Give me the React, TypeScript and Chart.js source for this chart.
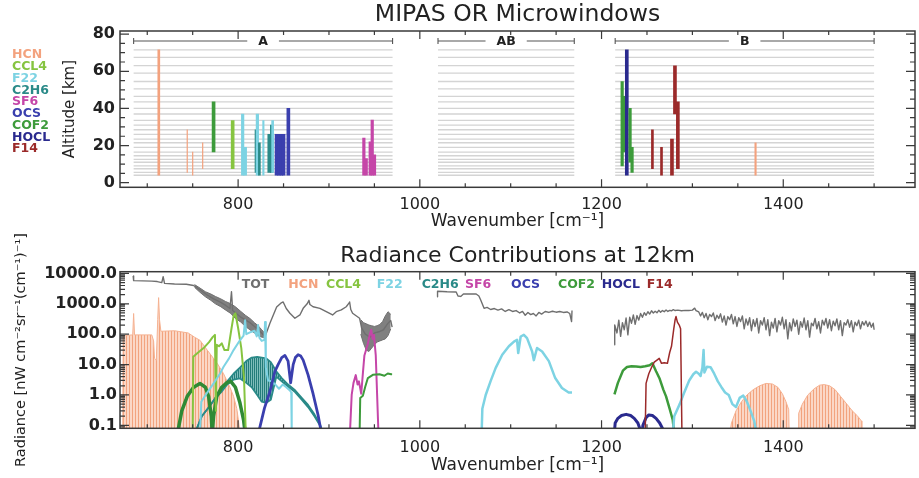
import { useEffect, useRef } from 'react';
import { Chart, registerables } from 'chart.js';

Chart.register(...registerables);

const FONT = "'DejaVu Sans', 'Liberation Sans', sans-serif";
const INK = '#222222';
const AXIS = '#3a3a3a';

/* ---------- species shown in both panels ---------- */
const speciesNames = ['HCN', 'CCL4', 'F22', 'C2H6', 'SF6', 'OCS', 'COF2', 'HOCL', 'F14'];
const speciesColors = ['#f3a27e', '#86c440', '#7dd3e3', '#2a8a88', '#c546a8', '#3a3fae', '#3d9b3b', '#2a2a8e', '#9b2a2a'];
const totName = 'TOT';
const totColor = '#6f6f6f';
const colorOf = (name: string) => speciesColors[speciesNames.indexOf(name)];

/* ---------- axes ---------- */
const wnMin = 670;
const wnMax = 1545;
const wnTicks = [800, 1000, 1200, 1400];
const altMin = -2.5;
const altMax = 81.7;
const altTicks = [0, 20, 40, 60, 80];
const radMin = 0.08;
const radMax = 11400;
const radTicks = [0.1, 1, 10, 100, 1000, 10000];

/* ---------- MIPAS bands ---------- */
const bandNames = ['A', 'AB', 'B'];
const bandStart = [685, 1020, 1215];
const bandEnd = [970, 1170, 1500];
const bandLabelAlt = 76.3;

/* tangent altitudes of the optimised-resolution scan [km] */
const tangentAlt = [71.5, 67.5, 63, 59, 54.5, 50.5, 46.5, 43.5, 40, 37, 33.5, 31, 28.5, 26, 23.5, 21.5, 19, 16.5, 14.5, 12.5, 11, 9, 7.5, 5.5, 4];

/* ---------- microwindows: species, centre [cm-1], width [cm-1], altitude range [km] ---------- */
const mwSpecies = ['HCN', 'HCN', 'HCN', 'HCN', 'COF2', 'CCL4', 'F22', 'F22', 'C2H6', 'F22', 'C2H6', 'F22', 'C2H6', 'C2H6', 'F22',
  'OCS', 'OCS', 'OCS', 'OCS', 'OCS', 'SF6', 'SF6', 'SF6', 'SF6', 'SF6',
  'COF2', 'COF2', 'HOCL', 'COF2', 'COF2', 'F14', 'F14', 'F14', 'F14', 'F14', 'HCN'];
const mwCentre = [712.7, 744, 750, 761, 773, 794, 805, 807.7, 819.7, 821.2, 823.4, 827.8, 834.3, 836.9, 838,
  842.3, 845, 847.6, 850, 855.3, 938.4, 941, 945.4, 947.6, 950.1,
  1222.7, 1225, 1227.8, 1231.4, 1233.6, 1256, 1266, 1277.5, 1280.8, 1284, 1369.5];
const mwWidth = [2.2, 0.6, 0.6, 0.6, 3.3, 3.3, 2.8, 3.3, 2.2, 2.8, 2.2, 1.6, 3.3, 2.8, 2.2,
  3.3, 3.3, 3.3, 3.3, 3.3, 2.8, 2.8, 2.8, 2.8, 2.8,
  2.8, 2.8, 3.3, 2.8, 2.8, 2.2, 2.2, 3.3, 3.3, 3.3, 1.6];
const mwLow = [4, 5.5, 4, 7.5, 16.5, 7.5, 4, 4, 5.5, 4, 4, 4, 5.5, 5.5, 5.5,
  4, 4, 4, 4, 4, 4, 4, 4, 4, 4,
  9, 16.5, 4, 11, 5.5, 7.5, 4, 4, 37, 7.5, 4];
const mwHigh = [71.5, 28.5, 16.5, 21.5, 43.5, 33.5, 37, 19, 28.5, 37, 21.5, 33.5, 26, 31, 33.5,
  26, 26, 26, 26, 40, 24, 13, 22, 33.7, 15,
  54.5, 46.5, 71.5, 40, 19, 28.5, 19, 23.5, 63, 43.5, 21.5];

/* ---------- radiance contributions at 12 km [nW cm-2 sr-1 (cm-1)-1] ---------- */
const totAWn = [684.5, 685, 695, 705, 711, 716, 717.5, 719, 730, 743, 751, 758, 766, 773, 780, 786, 791, 792.7, 794, 802, 813, 820, 826, 829.6,
  835, 842.4, 847, 849.6, 853, 857, 862.5, 868, 871.6, 876, 878, 879, 882.5, 890, 897, 904, 908, 913.6, 919, 922, 922.7, 924, 926, 933.7,
  936, 940, 945, 950, 955, 960, 965, 968, 969.5];
const totAVal = [8200, 5800, 5700, 5600, 5400, 5000, 7800, 4700, 4500, 4400, 4000, 2900, 1950, 1450, 1150, 900, 700, 2500, 600, 380, 240, 160, 110, 82,
  230, 780, 1050, 1150, 700, 490, 335, 430, 710, 1000, 1300, 950, 800, 710, 550, 430, 550, 630, 800, 1050, 1150, 650, 490, 335,
  160, 100, 80, 110, 120, 140, 230, 280, 170];
const totBand1Wn = [752, 758, 764, 770, 775, 781, 786, 792, 797, 803, 808, 813, 818, 822, 826, 829];
const totBand1Hi = [4300, 3300, 2500, 2100, 1750, 1450, 1200, 1000, 800, 560, 420, 330, 240, 190, 140, 110];
const totBand1Lo = [3500, 2400, 1700, 1300, 1000, 800, 630, 480, 330, 250, 180, 140, 110, 90, 80, 78];
const totBand2Wn = [935, 938, 941, 944, 947, 950, 953, 956, 959, 962, 965, 968];
const totBand2Hi = [300, 240, 220, 200, 190, 180, 190, 210, 260, 400, 550, 450];
const totBand2Lo = [100, 50, 30, 27, 35, 45, 55, 60, 65, 70, 90, 150];
const totABWn = [1019, 1019.5, 1030, 1040, 1042, 1045, 1048, 1062, 1065, 1067, 1070.7, 1074, 1078, 1082, 1086, 1090, 1094, 1098, 1102, 1106,
  1110, 1113, 1116, 1119, 1122, 1125, 1128, 1131, 1134, 1138, 1142, 1146, 1150, 1154, 1158, 1162, 1165, 1167, 1167.5];
const totABVal = [1700, 2600, 2500, 2450, 1800, 1750, 2100, 2100, 1800, 1330, 710, 760, 650, 700, 620, 680, 560, 640, 560, 600,
  500, 560, 420, 520, 440, 480, 400, 520, 460, 560, 520, 570, 530, 560, 520, 540, 480, 260, 600];
const totBWn = [1214, 1214.5, 1217, 1219, 1221, 1223, 1225, 1227, 1229, 1231, 1233, 1235, 1237, 1239, 1241, 1243, 1245, 1247, 1249, 1251,
  1253, 1255, 1257, 1259, 1261, 1263, 1265, 1267, 1269, 1271, 1273, 1275, 1277, 1279, 1281, 1284, 1288, 1292, 1296, 1300,
  1302.5, 1304, 1307, 1309, 1311, 1313, 1315, 1317, 1319, 1321, 1323, 1325, 1327, 1329, 1331, 1333, 1335, 1337, 1339, 1341,
  1343, 1345, 1347, 1349, 1351, 1353, 1355, 1357, 1359, 1361, 1363, 1365, 1367, 1369, 1371, 1373, 1375, 1377, 1379, 1381,
  1383, 1385, 1387, 1389, 1391, 1393, 1395, 1397, 1399, 1401, 1403, 1405, 1407, 1409, 1411, 1413, 1415, 1417, 1419, 1421,
  1423, 1425, 1427, 1429, 1431, 1433, 1435, 1437, 1439, 1441, 1443, 1445, 1447, 1449, 1451, 1453, 1455, 1457, 1459, 1461,
  1463, 1465, 1467, 1469, 1471, 1473, 1475, 1477, 1479, 1481, 1483, 1485, 1487, 1489, 1491, 1493, 1495, 1497, 1499, 1500];
const totBVal = [45, 200, 110, 290, 85, 240, 140, 340, 95, 360, 230, 430, 210, 410, 290, 480, 360, 510, 420, 550,
  460, 590, 500, 570, 510, 610, 530, 600, 550, 630, 560, 610, 590, 640, 600, 620, 590, 610, 600, 620,
  720, 600, 540, 400, 520, 350, 480, 300, 450, 380, 500, 280, 420, 330, 470, 250, 400, 200, 380, 300,
  450, 220, 380, 180, 350, 260, 400, 150, 320, 200, 350, 130, 300, 180, 330, 110, 280, 200, 350, 140,
  300, 90, 250, 160, 330, 120, 280, 200, 360, 150, 300, 70, 240, 130, 320, 180, 290, 100, 260, 170,
  340, 140, 280, 80, 230, 190, 330, 150, 260, 110, 290, 200, 330, 160, 300, 130, 270, 190, 320, 140,
  280, 90, 240, 200, 300, 170, 280, 120, 250, 190, 290, 150, 260, 200, 270, 180, 250, 170, 230, 140];

const hcnAWn = [673, 673.5, 684, 685, 686, 705, 707, 708, 710, 711.5, 712.5, 713.5, 715, 730, 745, 752, 758, 766, 777, 784, 791, 795, 798.5, 800.3, 802.2];
const hcnAVal = [0.05, 90, 95, 480, 95, 95, 60, 16, 14, 300, 1600, 300, 125, 130, 110, 80, 63, 30, 11, 5, 1.8, 0.9, 0.36, 0.15, 0.05];
const hcnBWn = [1341, 1343, 1348, 1354, 1360, 1367, 1374, 1381, 1388, 1394, 1399, 1403, 1406, 1406.5,
  1416.5, 1417, 1421, 1427, 1434, 1440, 1445, 1451, 1457, 1463, 1470, 1476, 1482, 1486, 1486.5];
const hcnBVal = [0.05, 0.12, 0.3, 0.6, 1.0, 1.5, 2.0, 2.4, 2.3, 1.8, 1.1, 0.6, 0.33, 0.05,
  0.05, 0.25, 0.5, 1.0, 1.6, 2.1, 2.2, 2.0, 1.5, 0.9, 0.5, 0.3, 0.2, 0.14, 0.05];

const ccl4Wn = [750, 750.6, 756, 762, 768, 772, 774.5, 775.5, 776.5, 779, 782, 785, 789, 792.5, 795, 797, 800, 803.5, 806.5, 808.5];
const ccl4Val = [0.05, 18, 25, 35, 55, 80, 95, 0.3, 45, 40, 50, 30, 30, 140, 400, 490, 160, 35, 3.6, 0.05];

const f22AWn = [758, 759.5, 766, 773, 780, 784, 790, 795, 802, 806, 807.7, 809, 813, 818, 820.5, 822, 823.5, 826, 829, 829.6, 830.5,
  833, 837, 841, 845, 849, 853, 857, 858.5, 859];
const f22AVal = [0.05, 0.6, 1.2, 2.4, 5, 8.5, 16, 30, 63, 90, 290, 100, 115, 130, 85, 200, 75, 60, 65, 250, 8,
  3, 2.8, 2.2, 1.6, 2.2, 1.8, 1.4, 1.2, 0.05];
const f22ABWn = [1068, 1068.8, 1072.5, 1078, 1083.5, 1090.7, 1098, 1103.6, 1107, 1108.3, 1111, 1114.5, 1118, 1123.6, 1125.5, 1129,
  1134.6, 1142, 1149, 1156.4, 1163.8, 1167.5];
const f22ABVal = [0.05, 0.35, 1.0, 2.9, 7.8, 21, 40, 57, 65, 24, 84, 95, 74, 27, 14, 35, 27, 13, 3.6, 1.7, 1.2, 1.2];
const f22BWn = [1278.4, 1280, 1286, 1291, 1296.5, 1301, 1304, 1307, 1309, 1311, 1312.3, 1313.2, 1316, 1320, 1324, 1328, 1332, 1336,
  1340, 1344, 1348, 1352, 1356, 1360, 1364, 1368, 1371];
const f22BVal = [0.05, 0.2, 0.5, 1.2, 3, 4.8, 5.8, 5, 4.2, 8, 30, 5.5, 8.5, 8.2, 5, 2.8, 1.8, 1.2, 1.0, 0.5, 0.4, 0.8, 0.95, 0.6, 0.3, 0.14, 0.05];

const c2h6Wn = [752, 760, 768, 775, 782, 788, 795, 802, 809, 815, 821, 826, 831, 836, 842, 848, 855, 862, 870, 877, 884, 890, 894];
const c2h6Hi = [0.05, 0.2, 0.4, 0.8, 1.5, 2.8, 5, 8, 13, 17, 18, 17, 16, 12, 6, 3.6, 2.2, 1.5, 0.8, 0.47, 0.23, 0.11, 0.05];
const c2h6Lo = [0.05, 0.2, 0.4, 0.8, 1.3, 2.2, 3.2, 3.5, 2.5, 1.8, 1.0, 0.6, 0.55, 0.7, 4, 2.8, 1.9, 1.3, 0.7, 0.4, 0.2, 0.1, 0.05];

const sf6Wn = [923, 925, 927, 929.5, 931.5, 933, 935.5, 937.5, 939, 942.5, 945, 946.5, 948, 949.5, 951.5, 953, 954.5];
const sf6Val = [0.05, 1.0, 2.5, 4.5, 2.2, 2.8, 1.1, 6, 20, 45, 100, 140, 70, 95, 20, 1, 0.05];

const ocsWn = [822, 829, 835, 840.5, 844, 848, 851.5, 855, 857.8, 860.6, 863, 866, 869, 871.6, 877, 882.5, 888, 892];
const ocsVal = [0.05, 0.37, 1.3, 6, 10, 17, 20, 13, 2.5, 10, 17, 21, 19, 14, 4.6, 1.1, 0.22, 0.05];

const cof2AWn = [733, 738, 744, 751, 758, 764, 767.5, 770.5, 771.5, 773, 776.5, 782, 788, 792, 797, 802, 806, 808];
const cof2AVal = [0.05, 0.3, 0.9, 1.8, 2.4, 1.8, 0.9, 0.2, 0.05, 0.2, 0.9, 1.8, 2.6, 2.8, 1.8, 0.55, 0.15, 0.05];
const cof2A2Wn = [933.7, 934.4, 937.3, 940, 942.8, 948.3, 955.6, 961, 964.7, 968.4, 969.5];
const cof2A2Val = [0.05, 0.8, 0.95, 1.9, 3.6, 4.6, 4.8, 4.3, 5.1, 4.8, 4.8];
const cof2BWn = [1214.2, 1218, 1223.5, 1228, 1233, 1238, 1243, 1248, 1253, 1256, 1260, 1264, 1268, 1271, 1275, 1278.4, 1280];
const cof2BVal = [1.05, 2.5, 6.3, 8.3, 8.8, 8.7, 8.3, 8.8, 9.5, 11, 6, 3.4, 1.5, 0.9, 0.35, 0.15, 0.05];

const hoclWn = [1214, 1215, 1218, 1222, 1227, 1232, 1236, 1240, 1242, 1243, 1244.5, 1245.5, 1249, 1252, 1256, 1260, 1264, 1267, 1268];
const hoclVal = [0.05, 0.12, 0.17, 0.21, 0.23, 0.21, 0.17, 0.12, 0.08, 0.05, 0.05, 0.1, 0.18, 0.22, 0.21, 0.17, 0.12, 0.08, 0.05];

const f14Wn = [1248, 1249, 1252, 1255, 1258, 1261, 1263.5, 1266, 1269, 1272.5, 1275, 1277, 1279.5, 1281, 1282, 1283.5, 1285.5, 1287, 1288.5];
const f14Val = [0.05, 2.4, 5, 8, 12, 14, 16, 11, 11.5, 11, 25, 40, 150, 300, 380, 250, 200, 150, 0.05];

/* ---------- layout of the two panels ---------- */
const W = 919;
const TOP_H = 234;
const BOT_TOP = 234;
const BOT_H = 244;
const PLOT_LEFT = 120;
const PLOT_RIGHT = 915;
const PX_PER_WN = (PLOT_RIGHT - PLOT_LEFT) / (wnMax - wnMin);

const pts = (wn: number[], val: number[]) => wn.map((x, i) => ({ x, y: val[i] }));

/* frame with inward ticks on all four sides */
function drawFrame(chart: any, logY: boolean) {
  const { ctx, chartArea: a } = chart;
  const xs = chart.scales.x;
  const ys = chart.scales.y;
  ctx.save();
  ctx.strokeStyle = AXIS;
  ctx.lineWidth = 1.2;
  ctx.beginPath();
  for (let v = Math.ceil(xs.min / 50) * 50; v <= xs.max; v += 50) {
    const px = xs.getPixelForValue(v);
    const len = v % 200 === 0 ? 8 : 4;
    ctx.moveTo(px, a.bottom);
    ctx.lineTo(px, a.bottom - len);
    ctx.moveTo(px, a.top);
    ctx.lineTo(px, a.top + len);
  }
  const yv: [number, boolean][] = [];
  if (logY) {
    for (let k = -2; k <= 4; k++) {
      for (let m = 1; m <= 9; m++) {
        const v = m * Math.pow(10, k);
        if (v >= ys.min && v <= ys.max) yv.push([v, m === 1]);
      }
    }
  } else {
    for (let v = Math.ceil(ys.min / 5) * 5; v <= ys.max; v += 5) yv.push([v, v % 20 === 0]);
  }
  for (const [v, major] of yv) {
    const py = ys.getPixelForValue(v);
    const len = major ? 9 : 5;
    ctx.moveTo(a.left, py);
    ctx.lineTo(a.left + len, py);
    ctx.moveTo(a.right, py);
    ctx.lineTo(a.right - len, py);
  }
  ctx.stroke();
  ctx.lineWidth = 1.5;
  ctx.strokeRect(a.left, a.top, a.right - a.left, a.bottom - a.top);
  ctx.restore();
}

function xScale(labelPad: number, height: number) {
  return {
    type: 'linear',
    min: wnMin,
    max: wnMax,
    offset: false,
    grid: { display: false, drawTicks: false },
    border: { display: false },
    afterBuildTicks: (s: any) => { s.ticks = wnTicks.map((v) => ({ value: v })); },
    afterFit: (s: any) => { s.height = height; },
    ticks: {
      autoSkip: false, maxRotation: 0, padding: labelPad, color: INK,
      font: { family: FONT, size: 16 },
      callback: (v: any) => String(v),
    },
    title: {
      display: true, text: 'Wavenumber [cm⁻¹]', color: INK,
      font: { family: FONT, size: 17, lineHeight: 1.2 },
      padding: { top: 0, bottom: 2 },
    },
  };
}

function topConfig(): any {
  const levelPoints: any[] = [];
  bandStart.forEach((s, b) => {
    tangentAlt.forEach((h) => {
      levelPoints.push({ x: s, y: h }, { x: bandEnd[b], y: h }, { x: bandEnd[b], y: null });
    });
  });
  const datasets: any[] = [{
    type: 'line', data: levelPoints, borderColor: '#d4d4d4', borderWidth: 1.3,
    pointRadius: 0, spanGaps: false, order: 100,
  }];
  mwCentre.forEach((c, i) => {
    datasets.push({
      type: 'bar',
      data: [{ x: c, y: [mwLow[i], mwHigh[i]] }],
      backgroundColor: colorOf(mwSpecies[i]),
      barThickness: Math.max(0.5, mwWidth[i] * PX_PER_WN),
      grouped: false,
      borderWidth: 0,
      order: -i,
    });
  });

  const overlay = {
    id: 'mipasOverlay',
    afterDraw(chart: any) {
      drawFrame(chart, false);
      const { ctx } = chart;
      const xs = chart.scales.x;
      const ys = chart.scales.y;
      ctx.save();
      // band brackets
      ctx.strokeStyle = '#555';
      ctx.lineWidth = 1.1;
      ctx.fillStyle = INK;
      ctx.font = `bold 12.5px ${FONT}`;
      ctx.textAlign = 'center';
      ctx.textBaseline = 'middle';
      bandNames.forEach((name, b) => {
        const x0 = xs.getPixelForValue(bandStart[b]);
        const x1 = xs.getPixelForValue(bandEnd[b]);
        const y = ys.getPixelForValue(bandLabelAlt);
        const xc = (x0 + x1) / 2;
        const half = ctx.measureText(name).width / 2 + 11;
        ctx.beginPath();
        ctx.moveTo(x0, y); ctx.lineTo(xc - half, y);
        ctx.moveTo(xc + half, y); ctx.lineTo(x1, y);
        ctx.moveTo(x0, y - 3); ctx.lineTo(x0, y + 3);
        ctx.moveTo(x1, y - 3); ctx.lineTo(x1, y + 3);
        ctx.stroke();
        ctx.fillText(name, xc, y + 0.5);
      });
      // species key
      ctx.textAlign = 'left';
      speciesNames.forEach((name, i) => {
        ctx.fillStyle = speciesColors[i];
        ctx.fillText(name, 12, 55 + i * 11.75);
      });
      ctx.restore();
    },
  };

  return {
    type: 'bar',
    data: { datasets },
    plugins: [overlay],
    options: {
      animation: false,
      responsive: false,
      events: [],
      layout: { padding: { left: 52, right: W - PLOT_RIGHT, top: 0, bottom: 0 } },
      plugins: {
        legend: { display: false },
        tooltip: { enabled: false },
        title: {
          display: true, text: 'MIPAS OR Microwindows', color: INK, fullSize: false,
          font: { family: FONT, size: 23.5, weight: 'normal', lineHeight: 1 },
          padding: { top: 3.25, bottom: 4.25 },
        },
      },
      scales: {
        x: xScale(8, TOP_H - 187.3),
        y: {
          type: 'linear', min: altMin, max: altMax,
          grid: { display: false, drawTicks: false },
          border: { display: false },
          afterBuildTicks: (s: any) => { s.ticks = altTicks.map((v) => ({ value: v })); },
          afterFit: (s: any) => { s.width = PLOT_LEFT - 52; },
          ticks: { padding: 5, color: INK, font: { family: FONT, size: 16, weight: 'bold' }, callback: (v: any) => String(v) },
          title: {
            display: true, text: 'Altitude [km]', color: INK,
            font: { family: FONT, size: 15, lineHeight: 1.2 },
            padding: { top: 9, bottom: 0 },
          },
        },
      },
    },
  };
}

function bottomConfig(fills: any): any {
  const line = (data: any[], color: string, width: number, extra: any = {}) => ({
    type: 'line', data, borderColor: color, borderWidth: width, pointRadius: 0,
    tension: 0, fill: false, spanGaps: false, clip: 0, borderJoinStyle: 'round', ...extra,
  });
  const teal = colorOf('C2H6');
  const totFill = 'rgba(100,100,100,0.82)';
  const list: any[] = [
    line(pts(hcnAWn, hcnAVal), '#f5b292', 1, { fill: 'start', backgroundColor: fills.hcn }),
    line(pts(hcnBWn, hcnBVal), '#f5b292', 1, { fill: 'start', backgroundColor: fills.hcn }),
    line(pts(totBand1Wn, totBand1Hi), totColor, 1, { fill: '+1', backgroundColor: totFill }),
    line(pts(totBand1Wn, totBand1Lo), totColor, 1),
    line(pts(totBand2Wn, totBand2Hi), totColor, 1, { fill: '+1', backgroundColor: totFill }),
    line(pts(totBand2Wn, totBand2Lo), totColor, 1),
    line(pts(totAWn, totAVal), totColor, 1.4),
    line(pts(totABWn, totABVal), totColor, 1.4),
    line(pts(totBWn, totBVal), totColor, 1.4),
    line(pts(c2h6Wn, c2h6Hi), teal, 1.8, { fill: '+1', backgroundColor: fills.c2h6 }),
    line(pts(c2h6Wn, c2h6Lo), teal, 1.8),
    line(pts(cof2AWn, cof2AVal), '#2f8a35', 3.5),
    line(pts(ccl4Wn, ccl4Val), colorOf('CCL4'), 2),
    line(pts(f22AWn, f22AVal), colorOf('F22'), 2),
    line(pts(f22ABWn, f22ABVal), colorOf('F22'), 2.5),
    line(pts(ocsWn, ocsVal), colorOf('OCS'), 2.8),
    line(pts(sf6Wn, sf6Val), colorOf('SF6'), 2),
    line(pts(cof2A2Wn, cof2A2Val), colorOf('COF2'), 2),
    line(pts(cof2BWn, cof2BVal), colorOf('COF2'), 2.5),
    line(pts(f22BWn, f22BVal), colorOf('F22'), 2.5),
    line(pts(hoclWn, hoclVal), colorOf('HOCL'), 3),
    line(pts(f14Wn, f14Val), colorOf('F14'), 1.5),
  ];
  list.forEach((d, i) => { d.order = -i; });

  const keyNames = [totName, ...speciesNames];
  const keyColors = [totColor, ...speciesColors];
  const keyX = [241.7, 288.3, 326, 376.7, 421.7, 465, 511, 558, 601.7, 646.7];

  const overlay = {
    id: 'radianceOverlay',
    afterDraw(chart: any) {
      drawFrame(chart, true);
      const { ctx } = chart;
      ctx.save();
      ctx.font = `bold 12.5px ${FONT}`;
      ctx.textAlign = 'left';
      ctx.textBaseline = 'middle';
      keyNames.forEach((name, i) => {
        ctx.fillStyle = keyColors[i];
        ctx.fillText(name, keyX[i], 285 - BOT_TOP);
      });
      ctx.restore();
    },
  };

  return {
    type: 'line',
    data: { datasets: list },
    plugins: [overlay],
    options: {
      animation: false,
      responsive: false,
      events: [],
      layout: { padding: { left: 4, right: W - PLOT_RIGHT, top: 0, bottom: 0 } },
      plugins: {
        legend: { display: false },
        tooltip: { enabled: false },
        title: {
          display: true, text: 'Radiance Contributions at 12km', color: INK, fullSize: false,
          font: { family: FONT, size: 22, weight: 'normal', lineHeight: 1 },
          padding: { top: 11.7, bottom: 4 },
        },
      },
      scales: {
        x: xScale(10.4, BOT_H - (428.3 - BOT_TOP)),
        y: {
          type: 'logarithmic', min: radMin, max: radMax,
          grid: { display: false, drawTicks: false },
          border: { display: false },
          afterBuildTicks: (s: any) => { s.ticks = radTicks.map((v) => ({ value: v })); },
          afterFit: (s: any) => { s.width = PLOT_LEFT - 4; },
          ticks: {
            padding: 3, color: INK, font: { family: FONT, size: 16, weight: 'bold' },
            callback: (v: any) => Number(v).toFixed(1),
          },
          title: {
            display: true, text: 'Radiance [nW cm⁻²sr⁻¹(cm⁻¹)⁻¹]', color: INK,
            font: { family: FONT, size: 14.5, lineHeight: 1.2 },
            padding: { top: 8.8, bottom: 0 },
          },
        },
      },
    },
  };
}

/* vertical line-comb fills used for the dense line spectra */
function makeStripes(ctx: CanvasRenderingContext2D, period: number, back: string, line: string) {
  const c = document.createElement('canvas');
  c.width = period;
  c.height = 4;
  const g = c.getContext('2d')!;
  g.fillStyle = back;
  g.fillRect(0, 0, period, 4);
  g.fillStyle = line;
  g.fillRect(0, 0, 1, 4);
  return ctx.createPattern(c, 'repeat');
}

export default function App() {
  const topRef = useRef<HTMLCanvasElement>(null);
  const botRef = useRef<HTMLCanvasElement>(null);

  useEffect(() => {
    Chart.defaults.font.family = FONT;
    const topChart = new Chart(topRef.current!, topConfig());
    const bctx = botRef.current!.getContext('2d')!;
    const fills = {
      hcn: makeStripes(bctx, 3, '#fbd7c6', '#f2a37e'),
      c2h6: makeStripes(bctx, 2, '#7fbdbb', '#237c7a'),
    };
    const botChart = new Chart(botRef.current!, bottomConfig(fills));
    return () => {
      topChart.destroy();
      botChart.destroy();
    };
  }, []);

  return (
    <div style={{ position: 'fixed', left: 0, top: 0, width: W, height: 478, background: '#ffffff', overflow: 'hidden' }}>
      <canvas ref={topRef} width={W} height={TOP_H}
        style={{ position: 'absolute', left: 0, top: 0, width: W, height: TOP_H }} />
      <canvas ref={botRef} width={W} height={BOT_H}
        style={{ position: 'absolute', left: 0, top: BOT_TOP, width: W, height: BOT_H }} />
    </div>
  );
}
